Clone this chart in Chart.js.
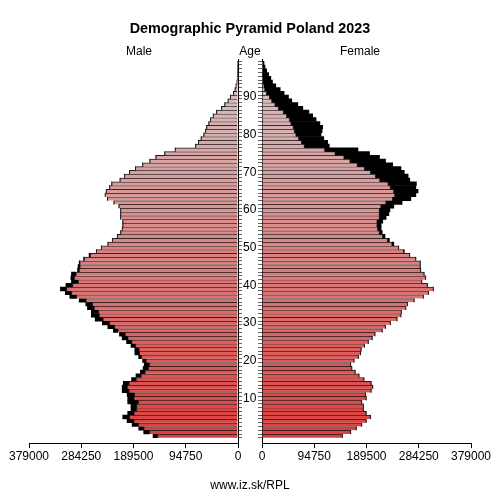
<!DOCTYPE html>
<html>
<head>
<meta charset="utf-8">
<script src="https://cdn.jsdelivr.net/npm/chart.js@4.4.1/dist/chart.umd.min.js"></script>
<style>
  body { margin: 0; width: 500px; height: 500px; position: relative; background: #fff; overflow: hidden;
         font-family: "Liberation Sans", Arial, sans-serif; color: #000; }
  canvas { position: absolute; top: 0; }
  #male { left: 0; }
  #female { left: 238px; }
  .txt { position: absolute; white-space: nowrap; line-height: 1; text-align: center; }
</style>
</head>
<body>
<canvas id="male" width="262" height="500"></canvas>
<canvas id="female" width="262" height="500"></canvas>
<div class="txt" style="left:0;width:500px;top:21px;font-size:14.4px;font-weight:bold">Demographic Pyramid Poland 2023</div>
<div class="txt" style="left:99px;width:80px;top:45px;font-size:12px">Male</div>
<div class="txt" style="left:210px;width:80px;top:45px;font-size:12px">Age</div>
<div class="txt" style="left:320px;width:80px;top:45px;font-size:12px">Female</div>
<div class="txt" style="left:0;width:500px;top:479px;font-size:12px">www.iz.sk/RPL</div>
<script>
Chart.defaults.font.family = '"Liberation Sans", Arial, sans-serif';
Chart.defaults.font.size = 12;
Chart.defaults.color = '#000';

// ages 0..99
const ages = Array.from({ length: 100 }, (_, i) => i);

// population by single year of age
const male = [
  154000, 171000, 180000, 192000, 201000, 209000, 200000, 194000, 194000, 200000,
  200000, 201000, 210000, 210000, 208000, 193000, 185000, 177000, 172000, 170000,
  173000, 180000, 187000, 187000, 194000, 202000, 210000, 215000, 226000, 236000,
  246000, 259000, 266000, 266000, 273000, 276000, 288000, 305000, 313000, 322000,
  312000, 302000, 303000, 302000, 291000, 290000, 288000, 280000, 270000, 257000,
  248000, 236000, 228000, 219000, 213000, 210000, 209000, 209000, 213000, 213000,
  213000, 216000, 225000, 237000, 241000, 239000, 233000, 229000, 214000, 206000,
  197000, 186000, 173000, 160000, 149000, 133000, 114000, 77000, 72000, 67000,
  62000, 59000, 57000, 53000, 50000, 45000, 39000, 30000, 24000, 18000,
  14000, 8500, 5400, 3600, 1800, 1300, 1000, 700, 500, 300
];
const female = [
  146000, 161000, 171000, 181000, 189000, 197000, 189000, 184000, 184000, 181000,
  189000, 188000, 198000, 201000, 198000, 185000, 176000, 169000, 163000, 161000,
  167000, 175000, 179000, 180000, 186000, 193000, 200000, 205000, 218000, 224000,
  233000, 245000, 252000, 253000, 261000, 264000, 276000, 293000, 302000, 311000,
  300000, 290000, 297000, 294000, 288000, 287000, 287000, 279000, 268000, 258000,
  248000, 239000, 231000, 223000, 218000, 216000, 216000, 219000, 225000, 230000,
  232000, 239000, 254000, 270000, 279000, 283000, 279000, 280000, 268000, 265000,
  258000, 252000, 237000, 224000, 213000, 195000, 174000, 122000, 119000, 112000,
  107000, 109000, 110000, 105000, 98000, 92000, 85000, 74000, 65000, 54000,
  48000, 40000, 33000, 25000, 19000, 16000, 12000, 8500, 5400, 3600
];
const xTicks = [0, 94750, 189500, 284250, 379000];

function ageColor(a) {
  const t = a / 99;
  const r = Math.round(220 - 5 * t);
  const g = Math.round(62 + 138 * t);
  return 'rgb(' + r + ',' + g + ',' + g + ')';
}

function pyramidSide(id, own, other, isMale) {
  const common = own.map((v, i) => Math.min(v, other[i]));
  const excess = own.map((v, i) => Math.max(0, v - other[i]));
  new Chart(document.getElementById(id), {
    type: 'bar',
    data: {
      labels: ages,
      datasets: [
        {
          data: common,
          backgroundColor: ages.map(ageColor),
          borderColor: '#1a1a1a',
          borderWidth: { top: 1, bottom: 0, left: 1, right: 1 },
          borderSkipped: 'start'
        },
        {
          data: excess,
          backgroundColor: '#000',
          borderColor: '#000',
          borderWidth: 0
        }
      ]
    },
    options: {
      indexAxis: 'y',
      responsive: false,
      animation: false,
      categoryPercentage: 1,
      barPercentage: 1,
      layout: {
        padding: isMale
          ? { left: 29, right: 0, top: 59.3, bottom: 36.9 }
          : { left: 0, right: 29, top: 59.3, bottom: 36.9 }
      },
      plugins: { legend: { display: false }, tooltip: { enabled: false } },
      scales: {
        x: {
          type: 'linear',
          reverse: isMale,
          min: 0,
          max: 379000,
          stacked: true,
          afterBuildTicks: s => { s.ticks = xTicks.map(v => ({ value: v })); },
          afterFit: s => { s.height = 20; },
          grid: { drawOnChartArea: false, drawTicks: true, tickLength: 5, color: '#000' },
          border: { color: '#000', width: 1 },
          ticks: { padding: 1, maxRotation: 0, autoSkip: false, callback: v => String(v) }
        },
        y: {
          type: 'linear',
          position: isMale ? 'right' : 'left',
          min: -1.4,
          max: 99.5,
          stacked: true,
          afterBuildTicks: s => { s.ticks = ages.map(v => ({ value: v })); },
          afterFit: s => { s.width = 24; },
          grid: { drawOnChartArea: false, drawTicks: true, tickLength: 4, color: '#666' },
          border: { color: '#000', width: 1 },
          ticks: {
            display: isMale,
            crossAlign: 'center',
            padding: 1,
            autoSkip: false,
            callback: v => (v % 10 === 0 && v > 0 ? String(v) : '')
          }
        }
      }
    }
  });
}

pyramidSide('male', male, female, true);
pyramidSide('female', female, male, false);
</script>
</body>
</html>
